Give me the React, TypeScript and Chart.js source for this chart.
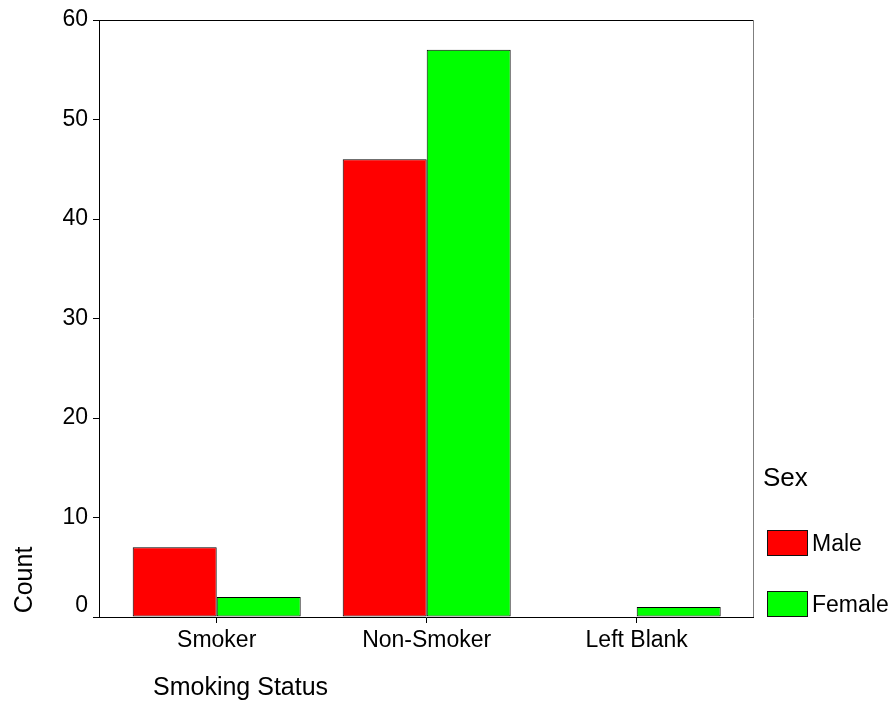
import React, { useEffect, useRef } from 'react';
import { Chart, registerables } from 'chart.js';

Chart.register(...registerables);

const categories = ['Smoker', 'Non-Smoker', 'Left Blank'];
const maleCounts = [7, 46, 0];
const femaleCounts = [2, 57, 1];
const yTickValues = [0, 10, 20, 30, 40, 50, 60];
const seriesNames = ['Male', 'Female'];
const seriesColors = ['#ff0000', '#00ff00'];
const legendTitle = 'Sex';
const xTitle = 'Smoking Status';
const yTitle = 'Count';

const FONT = '"Liberation Sans", Arial, Helvetica, sans-serif';
const W = 893;
const H = 728;

const framePlugin = {
  id: 'frameAndText',
  afterDraw(chart: any) {
    const ctx = chart.ctx as CanvasRenderingContext2D;
    const a = chart.chartArea;
    ctx.save();
    // top border
    ctx.strokeStyle = '#000';
    ctx.lineWidth = 1;
    ctx.beginPath();
    ctx.moveTo(a.left, Math.round(a.top) + 0.5);
    ctx.lineTo(a.right, Math.round(a.top) + 0.5);
    ctx.stroke();
    // right border (gray)
    ctx.strokeStyle = '#7f7f7f';
    ctx.beginPath();
    ctx.moveTo(Math.round(a.right) + 0.5, a.top);
    ctx.lineTo(Math.round(a.right) + 0.5, a.bottom);
    ctx.stroke();

    ctx.fillStyle = '#000';
    // x title
    ctx.font = `25px ${FONT}`;
    ctx.textAlign = 'left';
    ctx.textBaseline = 'alphabetic';
    ctx.fillText(xTitle, 153, 695);
    // y title
    ctx.save();
    ctx.translate(32, 580);
    ctx.rotate(-Math.PI / 2);
    ctx.textAlign = 'center';
    ctx.fillText(yTitle, 0, 0);
    ctx.restore();

    // legend
    ctx.font = `26px ${FONT}`;
    ctx.textAlign = 'left';
    ctx.fillText(legendTitle, 763, 486);
    const boxes = [
      { y: 530, h: 26, ty: 551 },
      { y: 591, h: 26, ty: 612 },
    ];
    ctx.font = `23px ${FONT}`;
    seriesNames.forEach((name, i) => {
      const b = boxes[i];
      ctx.fillStyle = seriesColors[i];
      ctx.fillRect(767, b.y, 41, b.h);
      ctx.strokeStyle = '#111';
      ctx.strokeRect(767.5, b.y + 0.5, 40, b.h - 1);
      ctx.fillStyle = '#000';
      ctx.fillText(name, 812, b.ty);
    });
    ctx.restore();
  },
};

export default function App() {
  const ref = useRef<HTMLCanvasElement | null>(null);

  useEffect(() => {
    if (!ref.current) return;
    const mk = (vals: number[]) => categories.map((_, i) => ({ x: i, y: vals[i] }));
    const chart = new Chart(ref.current, {
      type: 'bar',
      data: {
        datasets: [
          {
            label: seriesNames[0],
            data: mk(maleCounts),
            backgroundColor: seriesColors[0],
            borderColor: '#000',
            borderWidth: 1,
            borderSkipped: false,
            categoryPercentage: 0.8,
            barPercentage: 1.0,
          },
          {
            label: seriesNames[1],
            data: mk(femaleCounts),
            backgroundColor: seriesColors[1],
            borderColor: '#000',
            borderWidth: 1,
            borderSkipped: false,
            categoryPercentage: 0.8,
            barPercentage: 1.0,
          },
        ] as any,
      },
      options: {
        responsive: false,
        animation: false,
        devicePixelRatio: 1,
        layout: { padding: { left: 0, top: 20, right: W - 753, bottom: 0 } },
        plugins: { legend: { display: false }, tooltip: { enabled: false } },
        scales: {
          x: {
            type: 'linear',
            offset: false,
            min: -0.5605,
            max: 2.5538,
            grid: { offset: false, drawOnChartArea: false, drawTicks: true, tickLength: 6, color: '#000' },
            border: { color: '#000', width: 1 },
            afterBuildTicks: (s: any) => {
              s.ticks = categories.map((_, i) => ({ value: i }));
            },
            afterFit: (s: any) => {
              s.height = H - 617;
            },
            ticks: {
              autoSkip: false,
              maxRotation: 0,
              padding: 4,
              color: '#000',
              font: { family: FONT, size: 23 },
              callback: (v: any) => categories[v as number] ?? '',
            },
          },
          y: {
            min: 0,
            max: 60,
            grid: { drawOnChartArea: false, drawTicks: true, tickLength: 6, color: '#000' },
            border: { color: '#000', width: 1 },
            afterBuildTicks: (s: any) => {
              s.ticks = yTickValues.map((v) => ({ value: v }));
            },
            afterFit: (s: any) => {
              s.width = 99;
            },
            ticks: {
              padding: 5,
              color: '#000',
              font: { family: FONT, size: 23, lineHeight: 1.0 },
              callback: (v: any) => (v === 0 ? ['0', ''] : String(v)),
            },
          },
        },
      } as any,
      plugins: [framePlugin],
    });
    return () => chart.destroy();
  }, []);

  return (
    <div style={{ position: 'absolute', left: 0, top: 0, width: W, height: H, background: '#fff' }}>
      <canvas ref={ref} width={W} height={H} style={{ display: 'block', width: W, height: H }} />
    </div>
  );
}
